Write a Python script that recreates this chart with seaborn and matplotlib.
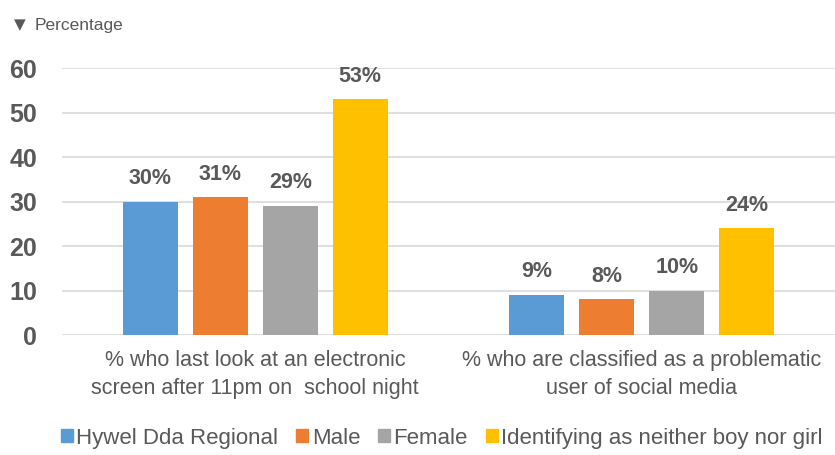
import matplotlib
matplotlib.use("Agg")
import matplotlib.pyplot as plt
import seaborn as sns
import pandas as pd

categories = [
    "% who last look at an electronic\nscreen after 11pm on  school night",
    "% who are classified as a problematic\nuser of social media",
]
groups = ["Hywel Dda Regional", "Male", "Female", "Identifying as neither boy nor girl"]
values = {
    "Hywel Dda Regional": [30, 9],
    "Male": [31, 8],
    "Female": [29, 10],
    "Identifying as neither boy nor girl": [53, 24],
}
colors = ["#5B9BD5", "#ED7D31", "#A5A5A5", "#FFC000"]
yticks = [0, 10, 20, 30, 40, 50, 60]

rows = []
for g in groups:
    for c, v in zip(categories, values[g]):
        rows.append({"category": c, "group": g, "value": v})
df = pd.DataFrame(rows)

sns.set_theme(style="white")
plt.rcParams["font.family"] = ["Liberation Sans", "DejaVu Sans"]
text_color = "#595959"

fig = plt.figure(figsize=(8.35, 4.55), dpi=100)
ax = fig.add_axes([0.0743, 0.2637, 0.9257, 0.5868])

sns.barplot(data=df, x="category", y="value", hue="group", hue_order=groups,
            palette=colors, width=0.724, gap=0.21, saturation=1, ax=ax,
            legend=True, errorbar=None, linewidth=0)

ax.set_ylim(0, 60)
ax.set_xlim(-0.5, 1.5)
ax.set_yticks(yticks)
ax.set_yticklabels([str(t) for t in yticks], fontsize=18, fontweight="bold",
                   color=text_color)
ax.tick_params(axis="y", length=0, pad=18)
ax.tick_params(axis="x", length=0, pad=11, labelcolor=text_color)
for lbl in ax.get_xticklabels():
    lbl.set_fontsize(15.5)
    lbl.set_linespacing(1.45)
ax.grid(axis="y", color="#D9D9D9", linewidth=1.2)
ax.set_axisbelow(True)
for s in ax.spines.values():
    s.set_visible(False)
ax.set_xlabel("")
ax.set_ylabel("")

for cont in ax.containers:
    ax.bar_label(cont, labels=[f"{int(v)}%" for v in cont.datavalues], padding=9,
                 fontsize=15.5, fontweight="bold", color=text_color)

ax.legend_.remove()
handles = [plt.Rectangle((0, 0), 1, 1, color=c) for c in colors]
fig.legend(handles, groups, loc="lower center", bbox_to_anchor=(0.529, -0.03), ncol=4,
           frameon=False, fontsize=16, labelcolor=text_color, handlelength=0.55,
           handleheight=0.55, handletextpad=0.15, columnspacing=0.8)

fig.text(0.017, 0.945, "▼", fontsize=11, color=text_color,
         family=["DejaVu Sans"], va="center")
fig.text(0.042, 0.945, "Percentage", fontsize=12.5, color=text_color, va="center")

fig.savefig("out.png", dpi=100)
